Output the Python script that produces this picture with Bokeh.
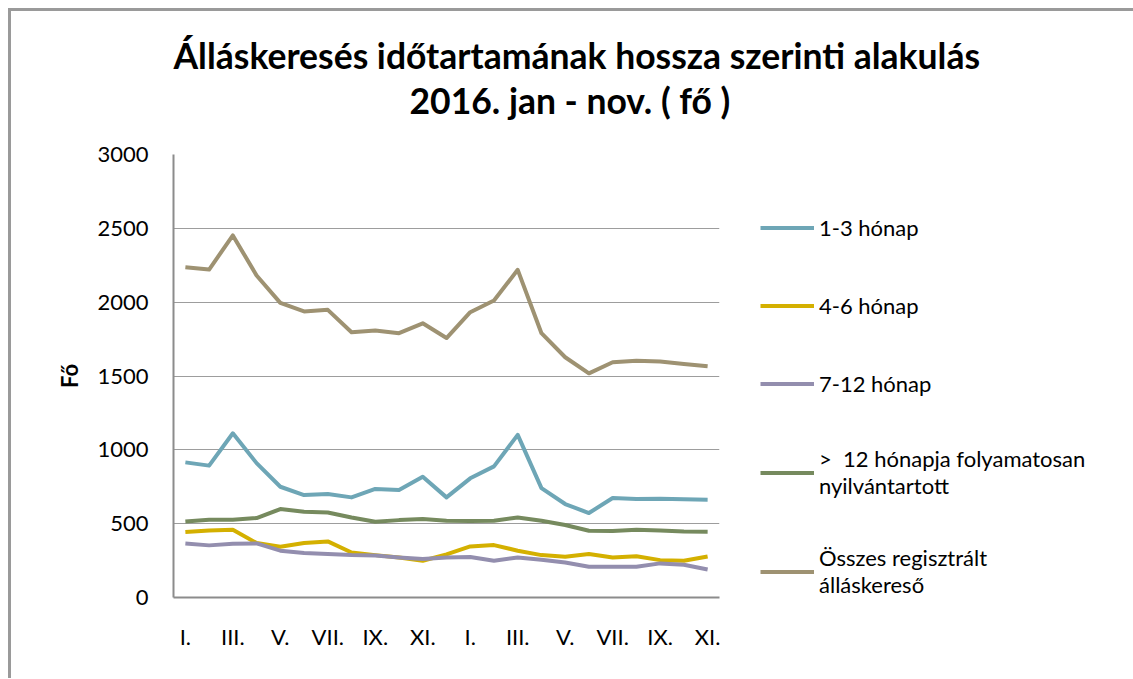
from bokeh.plotting import figure
from bokeh.models import Range1d, FixedTicker, Legend, LegendItem, Title
from bokeh.embed import file_html
from bokeh.resources import INLINE

months = ["I.", "II.", "III.", "IV.", "V.", "VI.", "VII.", "VIII.", "IX.", "X.", "XI.", "XII.",
          "I.", "II.", "III.", "IV.", "V.", "VI.", "VII.", "VIII.", "IX.", "X.", "XI."]

honap_1_3 = [915, 893, 1112, 910, 750, 694, 701, 678, 735, 728, 818, 678,
             807, 888, 1101, 741, 633, 572, 674, 667, 668, 665, 662]
honap_4_6 = [443, 454, 459, 369, 344, 369, 380, 305, 287, 271, 249, 292,
             346, 355, 317, 287, 276, 294, 271, 280, 253, 249, 278]
honap_7_12 = [366, 353, 364, 366, 317, 301, 294, 287, 285, 271, 260, 271,
              274, 249, 271, 256, 237, 208, 208, 208, 231, 222, 190]
honap_12_plus = [515, 527, 527, 538, 599, 581, 576, 542, 513, 524, 531, 520,
                 518, 520, 542, 520, 491, 452, 450, 459, 454, 447, 445]
osszes = [2237, 2221, 2452, 2181, 1995, 1937, 1948, 1796, 1808, 1790, 1857, 1757,
          1932, 2011, 2219, 1790, 1627, 1518, 1593, 1604, 1598, 1582, 1566]

series_names = ["1-3 hónap", "4-6 hónap", "7-12 hónap",
                ">  12 hónapja folyamatosan\nnyilvántartott", "Összes regisztrált\nálláskereső"]
series_colors = ["#6ea6b6", "#d4b000", "#938eae", "#768a5e", "#9e9272"]
y_ticks = [0, 500, 1000, 1500, 2000, 2500, 3000]
title_lines = ["Álláskeresés  időtartamának hossza szerinti alakulás", "2016. jan - nov. ( fő )"]

FONT = "Lato"
x = list(range(len(months)))

p = figure(frame_width=546, frame_height=443, output_backend="svg", toolbar_location=None,
           x_range=Range1d(-0.5, len(months) - 0.5), y_range=Range1d(0, 3000),
           min_border_left=162, min_border_right=413, min_border_top=143, min_border_bottom=81)
p.styles = {"margin-left": "8px", "margin-top": "8px",
            "border-left": "3px solid #9a9a9a", "border-top": "3px solid #9a9a9a"}
p.outline_line_color = None
p.background_fill_color = "white"
p.border_fill_color = "white"

p.xgrid.grid_line_color = None
p.ygrid.grid_line_color = "#9d9d9d"
p.ygrid.grid_line_width = 1
p.yaxis.ticker = FixedTicker(ticks=y_ticks)
p.xaxis.ticker = FixedTicker(ticks=x[::2])
p.xaxis.major_label_overrides = {i: months[i] for i in x}

for ax in (p.xaxis[0], p.yaxis[0]):
    ax.axis_line_color = "#8c8c8c"
    ax.axis_line_width = 2
    ax.major_tick_line_color = None
    ax.minor_tick_line_color = None
    ax.major_label_text_font = FONT
    ax.major_label_text_font_size = "22px"
    ax.major_label_text_color = "black"
p.xaxis.major_label_standoff = 19
p.yaxis.major_label_standoff = 19
p.yaxis.axis_label = "Fő"
p.yaxis.axis_label_text_font = FONT
p.yaxis.axis_label_text_font_style = "bold"
p.yaxis.axis_label_text_font_size = "22px"
p.yaxis.axis_label_text_color = "black"
p.yaxis.axis_label_standoff = 11

data = [honap_1_3, honap_4_6, honap_7_12, honap_12_plus, osszes]
items = []
for name, vals, col in zip(series_names, data, series_colors):
    r = p.line(x, vals, line_color=col, line_width=4, line_join="round")
    items.append(LegendItem(label=name, renderers=[r]))

legend = Legend(items=items, location=(41, -1), orientation="vertical",
                glyph_width=54, glyph_height=21, label_height=33, label_standoff=5,
                spacing=45, padding=0, margin=0, border_line_color=None,
                background_fill_alpha=0, label_text_font=FONT,
                label_text_font_size="22px", label_text_color="black")
p.add_layout(legend, "right")

# spacer between the plot area and the two title lines
p.add_layout(Title(text=" ", text_font_size="1px", standoff=30), "above")
for txt, off in zip(reversed(title_lines), [236, 0]):
    t = Title(text=txt, align="left", offset=off, standoff=0,
              text_font=FONT, text_font_size="35.5px", text_font_style="bold",
              text_color="black")
    p.add_layout(t, "above")

open("out.html", "w").write(file_html(p, INLINE))
